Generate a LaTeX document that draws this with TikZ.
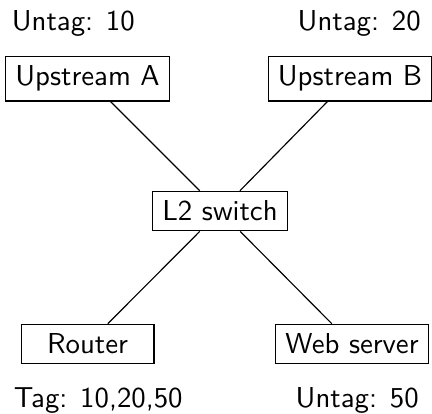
\documentclass[tikz,border=0pt]{standalone}
\usepackage{tikz}
\usetikzlibrary{positioning}
\tikzset{
  box/.style={draw=black, minimum width=1.62cm, font=\sffamily},
  lab/.style={anchor=base, font=\sffamily},
  link/.style={draw=black},
}
\begin{document}
\begin{tikzpicture}
  \useasboundingbox (0,0) rectangle (5.270,5.039);
  \node[box] (upA) at (1.068,4.081) {Upstream A};
  \node[box] (upB) at (4.270,4.081) {Upstream B};
  \node[box] (sw) at (2.684,2.464) {L2 switch};
  \node[box] (rt) at (1.068,0.842) {Router};
  \node[box] (web) at (4.294,0.842) {Web server};
  \node[lab] (labA) at (0.894,4.673) {Untag: 10};
  \node[lab] (labB) at (4.382,4.673) {Untag: 20};
  \node[lab] (labR) at (1.199,0.073) {Tag: 10,20,50};
  \node[lab] (labW) at (4.358,0.073) {Untag: 50};
  \draw[link] (upA) -- (sw);
  \draw[link] (upB) -- (sw);
  \draw[link] (sw) -- (rt);
  \draw[link] (sw) -- (web);
\end{tikzpicture}
\end{document}
